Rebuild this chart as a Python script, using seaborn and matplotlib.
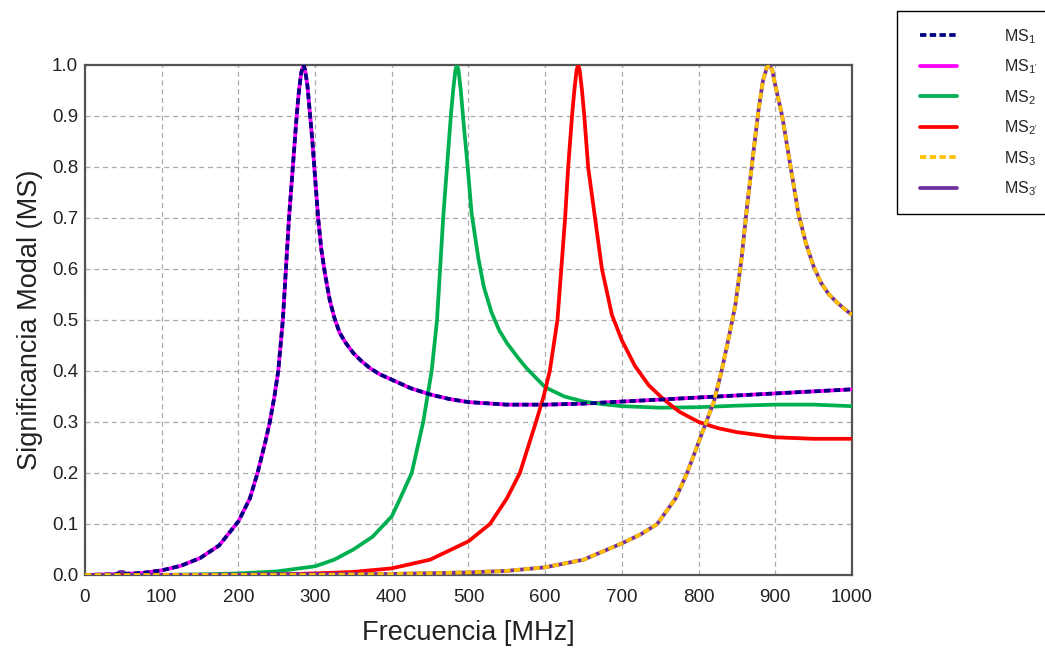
import matplotlib
matplotlib.use("Agg")
import matplotlib.pyplot as plt
from matplotlib.legend_handler import HandlerLine2D
import seaborn as sns
import numpy as np

# ---- data ----
ms1_f = [0, 25, 50, 75, 100, 125, 150, 175, 200, 215, 225, 235, 241, 247, 252, 258, 262, 266, 271, 276, 279,
         282, 285, 287, 290, 293, 296, 299, 304, 308, 313, 319, 325, 332, 340, 350, 360, 372, 385, 400, 425, 450,
         475, 500, 550, 600, 650, 700, 750, 800, 850, 900, 950, 1000]
ms1_v = [0.0, 0.001, 0.002, 0.004, 0.009, 0.018, 0.033, 0.058, 0.105, 0.15, 0.2, 0.26, 0.3, 0.35, 0.4, 0.5,
         0.6, 0.7, 0.8, 0.9, 0.95, 0.985, 1.0, 0.99, 0.96, 0.91, 0.86, 0.8, 0.7, 0.64, 0.59, 0.54, 0.505,
         0.475, 0.455, 0.435, 0.42, 0.405, 0.393, 0.383, 0.366, 0.354, 0.345, 0.339, 0.334, 0.334, 0.336, 0.34,
         0.344, 0.348, 0.352, 0.356, 0.36, 0.364]

ms2_f = [0, 100, 150, 200, 250, 300, 325, 350, 375, 400, 411, 426, 441, 452, 459, 463, 467, 472, 477, 480,
         483, 485, 487, 490, 494, 499, 504, 513, 520, 530, 540, 550, 565, 576, 600, 625, 650, 675, 700, 750,
         800, 850, 900, 950, 1000]
ms2_v = [0.0, 0.0, 0.001, 0.003, 0.007, 0.017, 0.03, 0.05, 0.075, 0.115, 0.15, 0.2, 0.3, 0.4, 0.5, 0.6, 0.7,
         0.8, 0.9, 0.95, 0.99, 1.0, 0.99, 0.95, 0.88, 0.8, 0.71, 0.62, 0.565, 0.515, 0.48, 0.455, 0.425, 0.405,
         0.368, 0.35, 0.34, 0.335, 0.331, 0.328, 0.329, 0.332, 0.334, 0.334, 0.331]

ms2p_f = [0, 200, 250, 300, 350, 400, 450, 500, 528, 550, 567, 588, 598, 606, 616, 621, 626, 630, 635, 638,
          641, 643, 645, 648, 651, 656, 665, 674, 687, 700, 717, 735, 754, 775, 800, 825, 850, 900, 950, 1000]
ms2p_v = [0.0, 0.0, 0.001, 0.003, 0.006, 0.013, 0.03, 0.066, 0.1, 0.15, 0.2, 0.3, 0.35, 0.4, 0.5, 0.6, 0.7,
          0.8, 0.9, 0.95, 0.99, 1.0, 0.99, 0.95, 0.9, 0.8, 0.7, 0.6, 0.51, 0.46, 0.41, 0.372, 0.345, 0.32,
          0.3, 0.288, 0.28, 0.27, 0.267, 0.267]

ms3_f = [0, 300, 400, 500, 550, 600, 650, 700, 725, 746, 770, 785, 800, 810, 820, 830, 840, 848, 856, 863,
         870, 878, 884, 889, 893, 896, 900, 909, 920, 930, 940, 950, 960, 970, 980, 990, 1000]
ms3_v = [0.0, 0.0, 0.002, 0.005, 0.008, 0.015, 0.03, 0.062, 0.08, 0.1, 0.15, 0.2, 0.26, 0.3, 0.34, 0.4,
         0.47, 0.53, 0.62, 0.72, 0.81, 0.91, 0.97, 0.995, 1.0, 0.99, 0.96, 0.9, 0.8, 0.71, 0.65, 0.605, 0.572,
         0.55, 0.535, 0.522, 0.51]

ms3p_f = [0, 40, 45, 50, 55, 60] + ms3_f[2:]
ms3p_v = [0.0, 0.0, 0.006, 0.006, 0.0, 0.0] + ms3_v[2:]

labels = ["MS$_1$", "MS$_{1'}$", "MS$_2$", "MS$_{2'}$", "MS$_3$", "MS$_{3'}$"]
colors = ["#000080", "#FF00FF", "#00B050", "#FF0000", "#FFC000", "#7030A0"]

sns.set_theme(style="white")
plt.rcParams['font.family'] = ['Liberation Sans', 'DejaVu Sans']
plt.rcParams['mathtext.fontset'] = 'custom'
plt.rcParams['mathtext.rm'] = 'Liberation Sans'
plt.rcParams['mathtext.it'] = 'Liberation Sans'

fig = plt.figure(figsize=(10.45, 6.48), dpi=100)
ax = fig.add_axes([0.0813, 0.1127, 0.7340, 0.7870])

lw = 2.7
dash = (0, (1.7, 0.9))
# draw order: solid under, dashed over
sns.lineplot(x=ms1_f, y=ms1_v, ax=ax, color=colors[1], lw=lw, zorder=3, sort=False, label=labels[1])
sns.lineplot(x=ms1_f, y=ms1_v, ax=ax, color=colors[0], lw=lw, zorder=4, sort=False, label=labels[0],
             linestyle=dash)
sns.lineplot(x=ms2_f, y=ms2_v, ax=ax, color=colors[2], lw=lw, zorder=3, sort=False, label=labels[2])
sns.lineplot(x=ms2p_f, y=ms2p_v, ax=ax, color=colors[3], lw=lw, zorder=3, sort=False, label=labels[3])
sns.lineplot(x=ms3p_f, y=ms3p_v, ax=ax, color=colors[5], lw=lw, zorder=3, sort=False, label=labels[5])
sns.lineplot(x=ms3_f, y=ms3_v, ax=ax, color=colors[4], lw=lw, zorder=4, sort=False, label=labels[4],
             linestyle=dash)
for ln in ax.lines:
    ln.set_solid_joinstyle('round')
    ln.set_dash_joinstyle('round')

ax.set_xlim(0, 1000)
ax.set_ylim(0, 1.0)
ax.set_xticks(np.arange(0, 1001, 100))
ax.set_yticks(np.round(np.arange(0, 1.01, 0.1), 1))
ax.set_yticklabels([f"{v:.1f}" for v in np.arange(0, 1.01, 0.1)])
ax.tick_params(axis='both', labelsize=13.5, length=0, colors='#222222')
ax.tick_params(axis='x', pad=10)
ax.tick_params(axis='y', pad=5)
ax.grid(True, color='#aaaaaa', linestyle=(0, (4, 3)), linewidth=0.9)
for s in ax.spines.values():
    s.set_color('#555555')
    s.set_linewidth(1.6)
    s.set_visible(True)

ax.set_xlabel("Frecuencia [MHz]", fontsize=19.5, color='#222222', labelpad=10)
ax.set_ylabel("Significancia Modal (MS)", fontsize=19.5, color='#222222', labelpad=6)

handles, labs = ax.get_legend_handles_labels()
order = [labels.index(l) for l in labs]
pairs = sorted(zip(order, handles, labs))
hmap = {p[1]: HandlerLine2D(xpad=0.44) for p in pairs}
ax.legend([p[1] for p in pairs], [p[2] for p in pairs], handler_map=hmap,
          loc='upper left', bbox_to_anchor=(0.858, 0.983), bbox_transform=fig.transFigure,
          fontsize=11.5, frameon=True, fancybox=False, edgecolor='black', framealpha=1,
          handlelength=2.8, handletextpad=2.94, labelspacing=0.74, borderpad=1.0, borderaxespad=0)
leg = ax.get_legend()
leg.get_frame().set_linewidth(1.0)

fig.savefig("out.png", dpi=100)
